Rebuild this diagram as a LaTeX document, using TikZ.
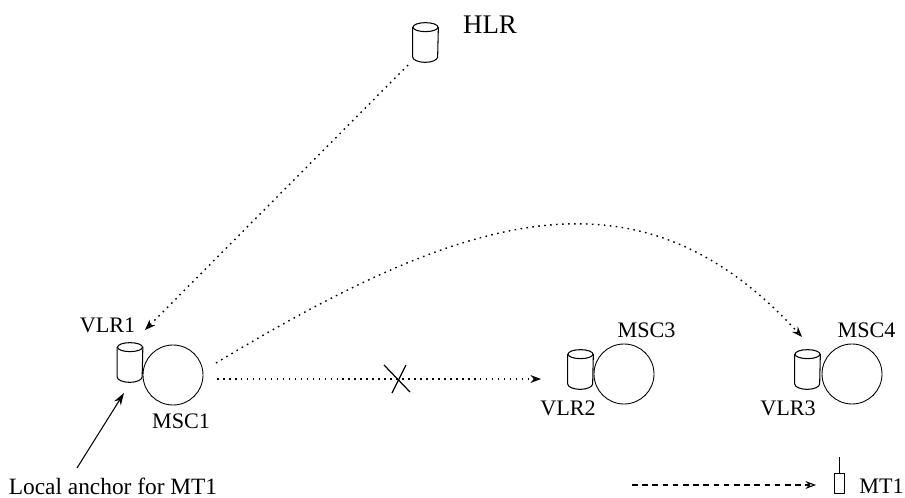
\documentclass[tikz,border=0pt]{standalone}
\usepackage{fontspec}
\setmainfont{Liberation Serif}
\usetikzlibrary{arrows.meta}

\begin{document}
\begin{tikzpicture}[
    font=\fontsize{12.6}{14}\selectfont,
    >={Stealth[open, length=6pt, width=4.5pt]},
    % Node styles
    dbbox/.style={rectangle, inner sep=0pt, minimum width=0.5cm, minimum height=0.78cm},
    mscbox/.style={draw, circle, inner sep=0pt, minimum size=1.2cm, line width=0.5pt},
    mtbox/.style={draw, rectangle, inner sep=0pt, minimum width=0.21cm, minimum height=0.4cm, line width=0.5pt},
    label/.style={inner sep=0pt},
    dotarrow/.style={->, dash pattern=on 0.9pt off 2.5pt, line width=0.8pt},
    dasharrow/.style={->, dash pattern=on 3.2pt off 2.6pt, line width=0.6pt}
]
\useasboundingbox (0,0) rectangle (18.1,-9.96);

% ========== HLR ==========
\node[dbbox] (hlrdb) at (8.51,-0.85) {};
\node[label, font=\fontsize{15.3}{16}\selectfont] (hlr) at (9.8,-0.5) {HLR};

% ========== Switches ==========
\node[mscbox] (msc1) at (3.46,-7.5) {};
\node[dbbox] (vlr1db) at (2.6,-7.25) {};
\node[label] (vlr1) at (2.15,-6.5) {VLR1};
\node[label] (msc1txt) at (3.62,-8.42) {MSC1};

\node[mscbox] (msc3) at (12.48,-7.48) {};
\node[dbbox] (vlr2db) at (11.61,-7.39) {};
\node[label] (msc3txt) at (12.93,-6.6) {MSC3};
\node[label] (vlr2) at (11.36,-8.16) {VLR2};

\node[mscbox] (msc4) at (17.04,-7.48) {};
\node[dbbox] (vlr3db) at (16.15,-7.39) {};
\node[label] (msc4txt) at (17.33,-6.6) {MSC4};
\node[label] (vlr3) at (15.76,-8.16) {VLR3};

% Cylinders
\foreach \db in {hlrdb, vlr1db, vlr2db, vlr3db} {
    \draw[line width=0.6pt] ([yshift=-0.09cm]\db.north) ellipse [x radius=0.25, y radius=0.09];
    \draw[line width=0.6pt] ([yshift=-0.09cm]\db.north west) -- ([yshift=0.11cm]\db.south west)
        arc [start angle=180, end angle=360, x radius=0.25, y radius=0.11] -- ([yshift=-0.09cm]\db.north east);
}

% ========== Mobile terminal ==========
\node[mtbox] (mt) at (16.79,-9.66) {};
\coordinate (mttop) at (16.79,-9.14);
\node[label] (mt1) at (18.08,-9.72) [anchor=east] {MT1};
\node[label, font=\fontsize{13.3}{14}\selectfont] (anchor) at (2.26,-9.72) {Local anchor for MT1};

% ========== Free ends ==========
\coordinate (hlrout) at (8.16,-1.3);
\coordinate (vlr1in) at (2.9,-6.6);
\coordinate (curveout) at (4.32,-7.26);
\coordinate (vlr3in) at (16.04,-6.74);
\coordinate (lineout) at (4.34,-7.58);
\coordinate (vlr2in) at (10.82,-7.58);
\coordinate (anchorout) at (1.54,-9.36);
\coordinate (vlr1low) at (2.48,-7.86);
\coordinate (dashout) at (12.64,-9.7);
\coordinate (dashin) at (16.32,-9.7);

% X mark
\coordinate (xa) at (7.68,-7.3);
\coordinate (xb) at (8.2,-7.84);
\coordinate (xc) at (8.12,-7.3);
\coordinate (xd) at (7.84,-7.86);

% ========== ARROWS ==========
\draw[dotarrow] (hlrout) -- (vlr1in);
\draw[dotarrow] (curveout) .. controls (9.4,-4.2) and (12.8,-3.2) .. (vlr3in);
\draw[dotarrow] (lineout) -- (vlr2in);
\draw[dasharrow] (dashout) -- (dashin);
\draw[->, >={Stealth[length=7pt, width=4.5pt]}, line width=0.6pt] (anchorout) -- (vlr1low);
\draw[line width=0.7pt] (xa) -- (xb);
\draw[line width=0.7pt] (xc) -- (xd);
\draw[line width=0.5pt] (mt.north) -- (mttop);

\end{tikzpicture}
\end{document}
